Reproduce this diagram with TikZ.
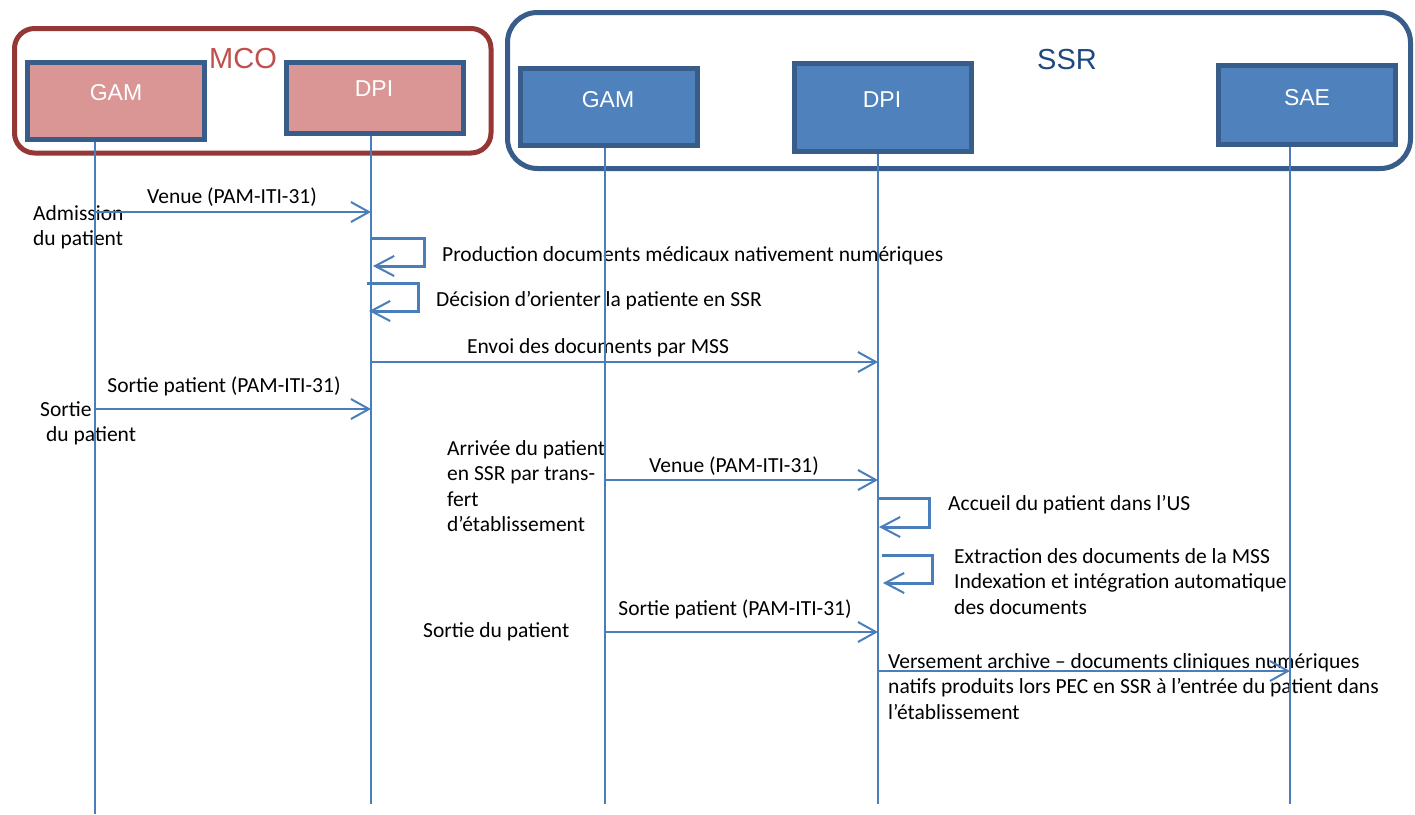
\documentclass[tikz,border=0pt]{standalone}
\usepackage{fontspec}
\setmainfont{Carlito}
\newfontfamily\boxfont{Liberation Sans}
\usetikzlibrary{arrows.meta}
\definecolor{mcoframe}{RGB}{149,55,53}
\definecolor{mcotext}{RGB}{192,80,77}
\definecolor{mcofill}{RGB}{217,150,148}
\definecolor{boxframe}{RGB}{56,93,138}
\definecolor{ssrfill}{RGB}{79,129,189}
\definecolor{ssrtext}{RGB}{31,73,125}
\definecolor{wire}{RGB}{74,126,187}
\newcommand\msgfont{\fontsize{21.5}{25.5}\selectfont}
\newcommand\lines[1]{\parbox[t]{25cm}{\raggedright #1}}
\begin{document}
\begin{tikzpicture}[x=1pt,y=-1pt,
  actor/.style={draw=boxframe, line width=5pt, inner sep=0pt, minimum width=177pt},
  mcoactor/.style={actor, fill=mcofill},
  ssractor/.style={actor, fill=ssrfill},
  actorname/.style={text=white, font=\boxfont\fontsize{23}{27}\selectfont, inner sep=0pt},
  groupname/.style={font=\boxfont\fontsize{29}{33}\selectfont, inner sep=0pt},
  lifeline/.style={draw=wire, line width=1.5pt},
  msg/.style={draw=wire, line width=2pt, -{Straight Barb[length=18pt,width=20pt]}},
  selfmsg/.style={draw=wire, line width=3pt, -{Straight Barb[length=19pt,width=20pt,line width=2pt]}},
  txt/.style={inner sep=0pt, font=\msgfont, text=black},
]
\useasboundingbox (0,0) rectangle (1415,814);

% ---- groups
\node[draw=mcoframe, line width=5pt, rounded corners=20pt, minimum width=476.5pt, minimum height=124.5pt, inner sep=0pt] (mco) at (252.75,90.75) {};
\node[draw=boxframe, line width=5pt, rounded corners=30pt, minimum width=903pt, minimum height=156pt, inner sep=0pt] (ssr) at (959,90.5) {};
\node[groupname, text=mcotext] (mconame) at (243,59) {MCO};
\node[groupname, text=ssrtext] (ssrname) at (1067,60) {SSR};

% ---- actors
\node[mcoactor, minimum height=77pt] (gamA) at (116,101) {};
\node[mcoactor, minimum height=71pt] (dpiA) at (375,98) {};
\node[ssractor, minimum height=77pt] (gamB) at (608.5,107) {};
\node[ssractor, minimum height=88pt] (dpiB) at (883,107.5) {};
\node[ssractor, minimum height=79pt] (sae) at (1307,105) {};
\node[actorname] (gamAname) at (116,93) {GAM};
\node[actorname] (dpiAname) at (374,89) {DPI};
\node[actorname] (gamBname) at (608,100) {GAM};
\node[actorname] (dpiBname) at (882,100) {DPI};
\node[actorname] (saename) at (1307,98) {SAE};

% ---- texts
\node[txt, anchor=base] (t1) at (232,203) {Venue (PAM-ITI-31)};
\node[txt, anchor=base west] (t2) at (33,220) {\lines{Admission\\du patient}};
\node[txt, anchor=base west] (t3) at (442,261) {Production documents médicaux nativement numériques};
\node[txt, anchor=base west] (t4) at (436,306) {Décision d’orienter la patiente en SSR};
\node[txt, anchor=base] (t5) at (598,353) {Envoi des documents par MSS};
\node[txt, anchor=base] (t6) at (224,392) {Sortie patient (PAM-ITI-31)};
\node[txt, anchor=base west] (t7) at (40,416) {\lines{Sortie\\\hspace*{6pt}du patient}};
\node[txt, anchor=base west] (t8) at (447,455) {\lines{Arrivée du patient\\en SSR par trans-\\fert\\d’établissement}};
\node[txt, anchor=base] (t9) at (734,472) {Venue (PAM-ITI-31)};
\node[txt, anchor=base west] (t10) at (948,510) {Accueil du patient dans l’US};
\node[txt, anchor=base west] (t11) at (954,563) {\lines{Extraction des documents de la MSS\\Indexation et intégration automatique\\des documents}};
\node[txt, anchor=base] (t12) at (735,615) {Sortie patient (PAM-ITI-31)};
\node[txt, anchor=base west] (t13) at (423,637) {Sortie du patient};
\node[txt, anchor=base west] (t14) at (888,668) {\lines{Versement archive – documents cliniques numériques\\natifs produits lors PEC en SSR à l’entrée du patient dans\\l’établissement}};

% ---- lifelines
\coordinate (endA) at (95,814);
\coordinate (endB) at (371,804);
\coordinate (endC) at (605,804);
\coordinate (endD) at (878,804);
\coordinate (endE) at (1290,804);
\draw[lifeline] (gamA.south -| endA) -- (endA);
\draw[lifeline] (dpiA.south -| endB) -- (endB);
\draw[lifeline] (gamB.south -| endC) -- (endC);
\draw[lifeline] (dpiB.south -| endD) -- (endD);
\draw[lifeline] (sae.south -| endE) -- (endE);

% ---- messages
\coordinate (m1a) at (95,212);   \coordinate (m1b) at (371,212);
\coordinate (m2a) at (371,362);  \coordinate (m2b) at (878,362);
\coordinate (m3a) at (95,409);   \coordinate (m3b) at (371,409);
\coordinate (m4a) at (605,480);  \coordinate (m4b) at (878,480);
\coordinate (m5a) at (605,632);  \coordinate (m5b) at (878,632);
\coordinate (m6a) at (878,671);  \coordinate (m6b) at (1290,671);
\draw[msg] (m1a) -- (m1b);
\draw[msg] (m2a) -- (m2b);
\draw[msg] (m3a) -- (m3b);
\draw[msg] (m4a) -- (m4b);
\draw[msg] (m5a) -- (m5b);
\draw[msg] (m6a) -- (m6b);

% ---- self messages
\coordinate (s1a) at (372,238);  \coordinate (s1b) at (373,266);
\coordinate (s2a) at (367,283);  \coordinate (s2b) at (369,311);
\coordinate (s3a) at (879,498);  \coordinate (s3b) at (879,527);
\coordinate (s4a) at (882,555);  \coordinate (s4b) at (883,583);
\draw[selfmsg] (s1a) -- ++(52,0) |- (s1b);
\draw[selfmsg] (s2a) -- ++(51,0) |- (s2b);
\draw[selfmsg] (s3a) -- ++(50,0) |- (s3b);
\draw[selfmsg] (s4a) -- ++(50,0) |- (s4b);
\end{tikzpicture}
\end{document}
